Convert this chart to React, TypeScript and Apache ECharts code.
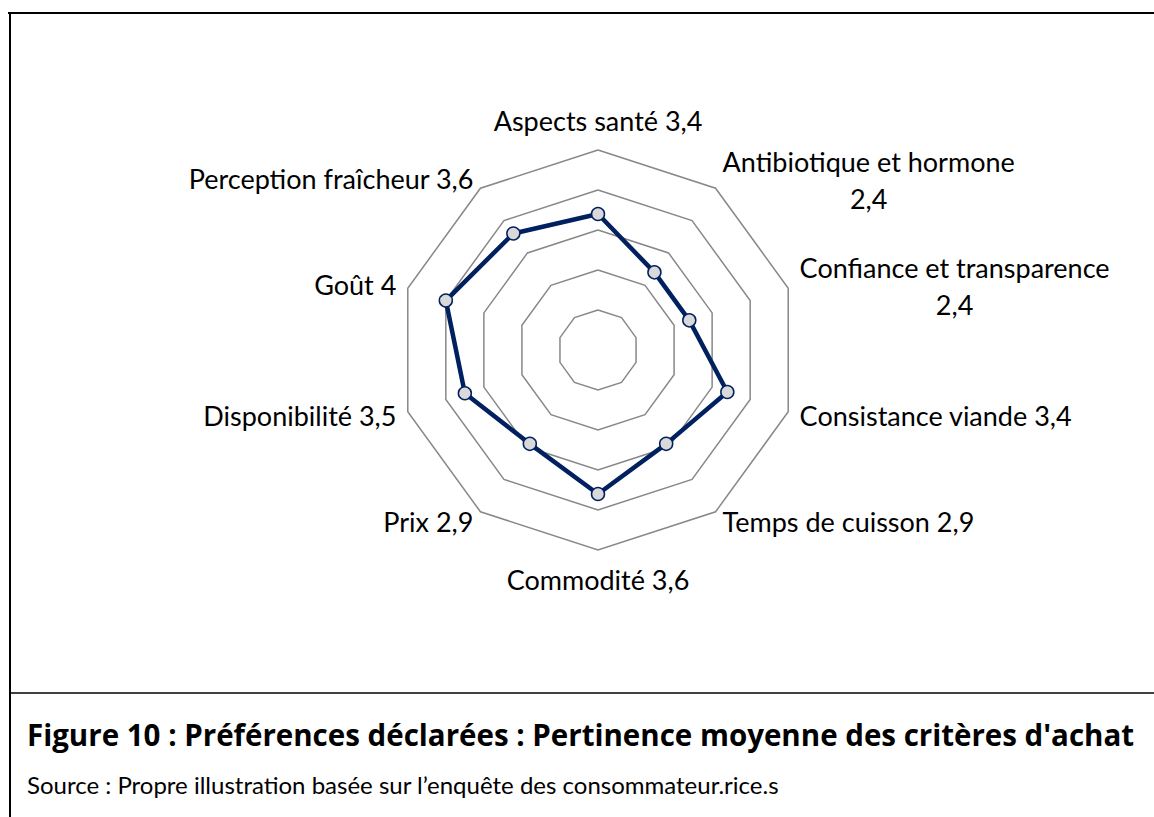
import React, { useEffect, useRef } from "react";
import * as echarts from "echarts";

const criteria = [
  "Aspects santé",
  "Antibiotique et hormone",
  "Confiance et transparence",
  "Consistance viande",
  "Temps de cuisson",
  "Commodité",
  "Prix",
  "Disponibilité",
  "Goût",
  "Perception fraîcheur",
];
const scores = [3.4, 2.4, 2.4, 3.4, 2.9, 3.6, 2.9, 3.5, 4, 3.6];
const twoLineLabels = ["Antibiotique et hormone", "Confiance et transparence"];
const scaleMax = 5;
const caption = "Figure 10 : Préférences déclarées : Pertinence moyenne des critères d'achat";
const source = "Source : Propre illustration basée sur l’enquête des consommateur.rice.s";

const FONT = "Lato";
const LABEL_SIZE = 27;

export default function App() {
  const ref = useRef<HTMLDivElement>(null);
  useEffect(() => {
    if (!ref.current) return;
    const chart = echarts.init(ref.current, null, { renderer: "svg" });
    // ECharts places indicators counter-clockwise; reorder to read clockwise
    const order = [0, ...criteria.map((_, i) => i).slice(1).reverse()];
    const fmt = (v: number) => String(v).replace(".", ",");
    const indicator = order.map((i) => ({ name: criteria[i], max: scaleMax, min: 0 }));
    const values = order.map((i) => scores[i]);
    const base = { fontFamily: FONT, fontSize: LABEL_SIZE, color: "#000" };
    chart.setOption({
      animation: false,
      backgroundColor: "#ffffff",
      radar: {
        center: [598, 350],
        radius: 200,
        startAngle: 90,
        splitNumber: 5,
        shape: "polygon",
        indicator,
        axisNameGap: 12,
        axisName: {
          color: "#000000",
          fontFamily: FONT,
          fontSize: LABEL_SIZE,
          formatter: (name: string) => {
            const idx = criteria.indexOf(name);
            const v = fmt(scores[idx]);
            if (twoLineLabels.includes(name)) return `{n|${name}}\n{v|${v}}`;
            if (idx === 0) return `{t|${name} ${v}}`;
            if (idx === 5) return `{b|${name} ${v}}`;
            return `{s|${name} ${v}}`;
          },
          rich: {
            n: { ...base, align: "center", lineHeight: 40, padding: [7, 0, 0, 0] },
            v: { ...base, align: "center", lineHeight: 40 },
            s: { ...base },
            t: { ...base, padding: [0, 0, 4, 0] },
            b: { ...base, padding: [4, 0, 0, 0] },
          },
        },
        axisLine: { show: false },
        axisTick: { show: false },
        axisLabel: { show: false },
        splitArea: { show: false },
        splitLine: { lineStyle: { color: "#888888", width: 1.5 } },
      },
      series: [
        {
          type: "radar",
          symbol: "circle",
          symbolSize: 13,
          lineStyle: { color: "#002060", width: 4.5 },
          itemStyle: { color: "#D9D9D9", borderColor: "#002060", borderWidth: 1.5 },
          data: [{ value: values, name: "Pertinence moyenne" }],
        },
      ],
      graphic: [
        { type: "line", shape: { x1: 8, y1: 13, x2: 1154, y2: 13 }, style: { stroke: "#000", lineWidth: 2 } },
        { type: "line", shape: { x1: 10, y1: 12, x2: 10, y2: 817 }, style: { stroke: "#000", lineWidth: 2 } },
        { type: "line", shape: { x1: 9, y1: 693, x2: 1154, y2: 693 }, style: { stroke: "#000", lineWidth: 1.5 } },
        {
          type: "text",
          left: 27,
          top: 719,
          style: { text: caption, fontFamily: "Open Sans", fontSize: 29.5, fontWeight: "bold", fill: "#000" },
        },
        {
          type: "text",
          left: 27,
          top: 772,
          style: { text: source, fontFamily: FONT, fontSize: 24, fill: "#000" },
        },
      ],
    });
    return () => chart.dispose();
  }, []);
  return (
    <div
      ref={ref}
      style={{ position: "fixed", left: 0, top: 0, width: 1154, height: 817, background: "#fff" }}
    />
  );
}
